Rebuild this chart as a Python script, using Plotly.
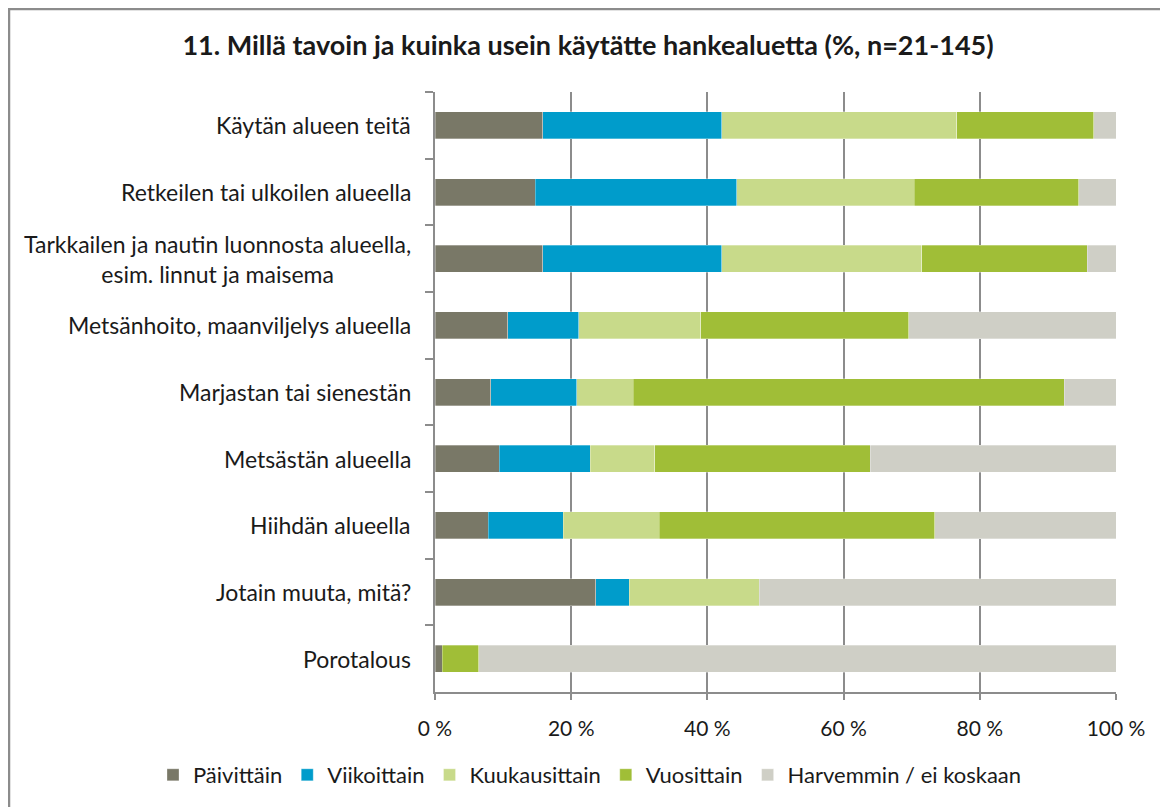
import plotly.graph_objects as go

categories = [
    "Käytän alueen teitä",
    "Retkeilen tai ulkoilen alueella",
    "Tarkkailen ja nautin luonnosta alueella,<br>esim. linnut ja maisema",
    "Metsänhoito, maanviljelys alueella",
    "Marjastan tai sienestän",
    "Metsästän alueella",
    "Hiihdän alueella",
    "Jotain muuta, mitä?",
    "Porotalous",
]
series_names = ["Päivittäin", "Viikoittain", "Kuukausittain", "Vuosittain", "Harvemmin / ei koskaan"]

paivittain = [15.8, 14.7, 15.8, 10.7, 8.2, 9.4, 7.8, 23.6, 1.1]
viikoittain = [26.3, 29.6, 26.3, 10.4, 12.6, 13.4, 11.0, 4.9, 0.0]
kuukausittain = [34.5, 26.1, 29.4, 17.9, 8.3, 9.5, 14.1, 19.1, 0.0]
vuosittain = [20.1, 24.1, 24.3, 30.6, 63.3, 31.6, 40.5, 0.0, 5.3]
harvemmin = [3.3, 5.5, 4.2, 30.4, 7.6, 36.1, 26.6, 52.4, 93.6]

colors = ["#797867", "#009CCB", "#C8DA8A", "#A0BE37", "#CFCFC6"]
values = [paivittain, viikoittain, kuukausittain, vuosittain, harvemmin]

FONT = "Lato, 'Open Sans', sans-serif"
GRID = "#8C8C8C"
TXT = "#1a1a1a"

# page has an 8px body margin, so figure pixel = page pixel - 8
W, H = 1160, 799
L, R, T, B = 427, 1108, 84, 684
PW, PH = R - L, B - T

fig = go.Figure()
for name, vals, col in zip(series_names, values, colors):
    fig.add_trace(go.Bar(
        y=categories, x=vals, name=name, orientation="h",
        marker=dict(color=col, line=dict(color="rgba(255,255,255,0.6)", width=0.5)),
    ))

# category labels as centered annotations
for c in categories:
    fig.add_annotation(
        x=0, xref="paper", y=c, yref="y", text=c, showarrow=False,
        xanchor="right", xshift=-22, align="center",
        font=dict(family=FONT, size=23, color=TXT),
    )

# outer chart border (only top and left edges visible)
fig.add_shape(type="rect", xref="paper", yref="paper",
              x0=(1 - L) / PW, x1=(W + 20 - L) / PW,
              y0=(B - (H + 20)) / PH, y1=(B - 1) / PH,
              line=dict(color="#8C8C8C", width=2.5), fillcolor="rgba(0,0,0,0)", layer="below")

fig.update_layout(
    width=W, height=H,
    margin=dict(l=L, r=W - R, t=T, b=H - B, autoexpand=False),
    paper_bgcolor="white", plot_bgcolor="white",
    barmode="stack", bargap=0.595,
    title=dict(text="<b>11. Millä tavoin ja kuinka usein käytätte hankealuetta (%, n=21-145)</b>",
               xref="container", x=580 / W, xanchor="center",
               yref="container", y=1 - 38 / H, yanchor="middle",
               font=dict(family=FONT, size=27, color=TXT)),
    font=dict(family=FONT, size=22, color=TXT),
    showlegend=True,
    legend=dict(orientation="h", xref="paper", x=(145 - L) / PW, xanchor="left",
                yref="paper", y=(B - 767) / PH, yanchor="middle",
                font=dict(family=FONT, size=22, color=TXT),
                traceorder="normal", itemwidth=30, bgcolor="rgba(0,0,0,0)"),
    xaxis=dict(range=[0, 100], dtick=20, tick0=0, ticksuffix=" %",
               showgrid=True, gridcolor=GRID, gridwidth=2,
               zeroline=False, showline=True, linecolor=GRID, linewidth=2,
               ticks="outside", ticklen=6, tickwidth=2, tickcolor=GRID,
               ticklabelstandoff=11,
               tickfont=dict(family=FONT, size=21, color=TXT)),
    yaxis=dict(autorange="reversed", showticklabels=False, showgrid=False,
               showline=True, linecolor=GRID, linewidth=2,
               ticks="outside", tickson="boundaries", ticklen=8, tickwidth=2, tickcolor=GRID,
               zeroline=False),
)

fig.write_html("out.html")
